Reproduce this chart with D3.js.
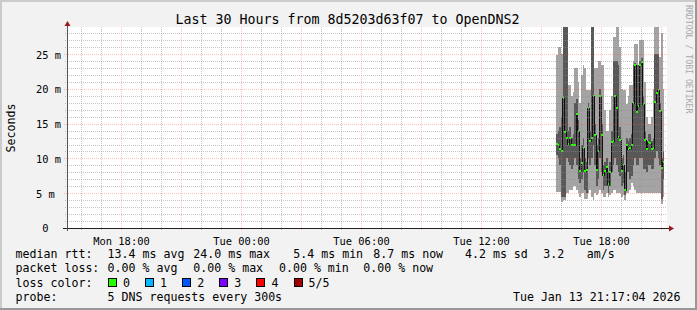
<!DOCTYPE html>
<html>
<head>
<meta charset="utf-8">
<script src="https://cdnjs.cloudflare.com/ajax/libs/d3/7.8.5/d3.min.js"></script>
<style>
  html, body { margin: 0; padding: 0; background: #f2f2f2; }
  svg { display: block; }
  text { font-family: "DejaVu Sans Mono", monospace; white-space: pre; }
</style>
</head>
<body>
<svg width="697" height="310"></svg>
<script>
// Time window of the graph (30 hours) and the first sample with data
var startTime = new Date(2026, 0, 12, 15, 18);
var endTime = new Date(2026, 0, 13, 21, 18);
var firstSample = new Date(2026, 0, 13, 15, 45);
var stepMinutes = 5;

// Sorted ping results per 5 minute step, in milliseconds
var minMs = [5.2, 5.2, 5.2, 3.8, 4, 4, 5, 5, 5.5, 5.5, 6, 6, 5.5, 5, 4.5, 5, 5, 4.2, 4.2, 5,
  5.5, 4.5, 4, 5, 4.8, 5, 5.5, 5, 4.5, 4.5, 5, 4.5, 4.8, 5, 5.5, 5.5, 5, 5, 5, 4.5,
  4.8, 4, 5, 5, 5.5, 6.5, 6, 5.5, 5, 5, 5, 5, 5, 5, 5, 5, 5, 5, 5, 5,
  5, 5, 5, 3.5, 4.5];
var lowMs = [10.5, 10, 9, 4.5, 4.5, 4.5, 10, 9.5, 9, 8.5, 9, 10, 9, 7, 6.5, 7, 8, 5.5, 5, 10,
  9, 10, 12, 9, 6, 7, 10, 8, 5.5, 6, 6, 5, 6, 8, 9, 10, 9, 8, 7.5, 6,
  6.5, 4.8, 8, 8, 7, 7.5, 9, 10, 9, 9, 10, 10, 8.5, 8.5, 8, 9, 9, 8.5, 8.5, 10,
  11, 10, 9, 4.2, 7];
var medianMs = [12.1, 12.0, 11.4, 11.0, 18.7, 13.8, 13.0, 12.1, 12.9, 12.0, 11.9, 11.9, 16.4, 14.0, 8.2, 9.3, 11.5, 8.2, 8.3, 17.2,
  12.5, 13.0, 19.0, 13.4, 8.3, 11.0, 19.0, 13.4, 7.6, 8.2, 8.7, 6.3, 8.0, 12.4, 12.5, 19.0, 17.2, 13.1, 12.6, 8.2,
  9.0, 5.5, 11.9, 11.4, 11.5, 11.9, 18.0, 23.4, 16.7, 17.5, 23.4, 23.9, 17.8, 12.6, 11.4, 12.4, 12.2, 11.4, 11.5, 18.1,
  19.4, 19.8, 16.8, 8.6, 9.5];
var highMs = [13.5, 14, 14.5, 16, 30, 30, 30, 14, 14.5, 13, 13.5, 18, 18.5, 15.5, 10, 12, 13, 10, 9.5, 18,
  14, 30, 30, 15, 12, 13, 20, 15, 9, 9.5, 10, 8, 9.5, 14, 24, 24, 24, 23.5, 14.5, 10,
  10.5, 8, 13, 12.5, 13, 13.5, 23.5, 23.7, 23.5, 23.5, 24, 24.5, 19, 14, 12.5, 13.5, 13.5, 12.5, 13, 25,
  25, 25, 18, 10, 11];
var maxMs = [24.9, 26, 26, 25, 30, 30, 30, 20.5, 20.5, 19, 19.5, 23, 23, 21, 18, 22, 23.4, 23, 19.8, 19.8,
  19.8, 24.5, 30, 23, 23, 24, 24, 23.4, 23.4, 17, 14, 14, 17, 19, 27.4, 27.4, 30, 30, 26, 20,
  19.8, 19.8, 17.8, 19, 20.5, 20.5, 24, 26.5, 26.5, 22, 27, 27, 27, 21, 16, 15, 15, 16, 20, 30,
  30, 30, 24.6, 28, 20];

// Axis values
var yTicks = [0, 5, 10, 15, 20, 25];
var yMax = 28.9;

// Legend texts
var titleText = "Last 30 Hours from 8d5203d63f07 to OpenDNS2";
var rttStats = ["13.4 ms avg", "24.0 ms max", "5.4 ms min", "8.7 ms now", "4.2 ms sd", "3.2", "am/s"];
var lossStats = ["0.00 % avg", "0.00 % max", "0.00 % min", "0.00 % now"];
var lossLevels = ["0", "1", "2", "3", "4", "5/5"];
var lossColors = ["#26ff00", "#00b8ff", "#0059ff", "#7e00ff", "#ff0000", "#a10000"];
var probeText = "5 DNS requests every 300s";
var stampText = "Tue Jan 13 21:17:04 2026";

var svg = d3.select("svg"),
  W = +svg.attr("width"),
  H = +svg.attr("height"),
  plot = { left: 67, right: 667, top: 27, bottom: 228 };

// Background and shaded frame
svg.append("rect").attr("width", W).attr("height", H).attr("fill", "#f2f2f2");
svg.append("rect").attr("x", 0).attr("y", 0).attr("width", W).attr("height", 2).attr("fill", "#cbcbcb");
svg.append("rect").attr("x", 0).attr("y", 0).attr("width", 2).attr("height", H).attr("fill", "#cbcbcb");
svg.append("rect").attr("x", 0).attr("y", H - 2).attr("width", W).attr("height", 2).attr("fill", "#999");
svg.append("rect").attr("x", W - 2).attr("y", 0).attr("width", 2).attr("height", H).attr("fill", "#999");

svg.append("rect")
  .attr("x", plot.left).attr("y", plot.top)
  .attr("width", plot.right - plot.left).attr("height", plot.bottom - plot.top)
  .attr("fill", "#fff");

var x = d3.scaleTime().domain([startTime, endTime]).range([plot.left, plot.right]);
var y = d3.scaleLinear().domain([0, yMax]).range([plot.bottom, plot.top]);

svg.append("clipPath").attr("id", "plotclip")
  .append("rect")
  .attr("x", plot.left).attr("y", plot.top)
  .attr("width", plot.right - plot.left).attr("height", plot.bottom - plot.top);

// Samples
var samples = medianMs.map(function (m, i) {
  return {
    t: d3.timeMinute.offset(firstSample, i * stepMinutes),
    min: minMs[i], low: lowMs[i], med: m, high: highMs[i], max: maxMs[i]
  };
});
var last = samples[samples.length - 1];
var stepped = samples.concat([Object.assign({}, last, { t: d3.timeMinute.offset(last.t, stepMinutes) })]);

var data = svg.append("g").attr("clip-path", "url(#plotclip)");

// Smoke: outer band min..max, inner band low..high
var outer = d3.area().curve(d3.curveStepAfter)
  .x((d) => x(d.t)).y0((d) => y(d.min)).y1((d) => y(d.max));
var inner = d3.area().curve(d3.curveStepAfter)
  .x((d) => x(d.t)).y0((d) => y(d.low)).y1((d) => y(d.high));

data.append("path").datum(stepped).attr("d", outer)
  .attr("fill", "#a4a4a4").attr("shape-rendering", "crispEdges");
data.append("path").datum(stepped).attr("d", inner)
  .attr("fill", "#585858").attr("shape-rendering", "crispEdges");

// Median line and loss coloured median marks
var medLine = d3.line().curve(d3.curveStepAfter)
  .x((d) => x(d.t)).y((d) => Math.round(y(d.med)) + 0.5);
data.append("path").datum(stepped).attr("d", medLine)
  .attr("fill", "none").attr("stroke", "#111").attr("stroke-width", 1)
  .attr("shape-rendering", "crispEdges");

data.selectAll(".med")
  .data(samples)
  .enter()
  .append("rect")
  .attr("class", "med")
  .attr("x", (d) => x(d.t))
  .attr("y", (d) => Math.round(y(d.med)) - 1)
  .attr("width", (d) => x(d3.timeMinute.offset(d.t, stepMinutes)) - x(d.t))
  .attr("height", 2)
  .attr("fill", lossColors[0])
  .attr("shape-rendering", "crispEdges");

// Grid (drawn on top, like rrdtool)
var grid = svg.append("g").attr("shape-rendering", "crispEdges");
var hours = d3.timeHour.every(1).range(startTime, endTime);
var minorCol = "rgba(140,140,140,0.5)",
  majorCol = "rgba(255,70,70,0.34)";

grid.selectAll(".vminor")
  .data(hours.filter((d) => d.getHours() % 3 !== 0))
  .enter().append("line")
  .attr("x1", (d) => Math.round(x(d)) + 0.5).attr("x2", (d) => Math.round(x(d)) + 0.5)
  .attr("y1", plot.top).attr("y2", plot.bottom + 2)
  .attr("stroke", minorCol).attr("stroke-dasharray", "1,1");

grid.selectAll(".vmajor")
  .data(hours.filter((d) => d.getHours() % 3 === 0))
  .enter().append("line")
  .attr("x1", (d) => Math.round(x(d)) + 0.5).attr("x2", (d) => Math.round(x(d)) + 0.5)
  .attr("y1", plot.top).attr("y2", plot.bottom + 3)
  .attr("stroke", majorCol).attr("stroke-dasharray", "1,1");

var ms = d3.range(1, Math.floor(yMax) + 1);
grid.selectAll(".hminor")
  .data(ms.filter((d) => d % 5 !== 0))
  .enter().append("line")
  .attr("y1", (d) => Math.round(y(d)) + 0.5).attr("y2", (d) => Math.round(y(d)) + 0.5)
  .attr("x1", plot.left - 2).attr("x2", plot.right)
  .attr("stroke", minorCol).attr("stroke-dasharray", "1,1");

grid.selectAll(".hmajor")
  .data(ms.filter((d) => d % 5 === 0))
  .enter().append("line")
  .attr("y1", (d) => Math.round(y(d)) + 0.5).attr("y2", (d) => Math.round(y(d)) + 0.5)
  .attr("x1", plot.left - 3).attr("x2", plot.right)
  .attr("stroke", majorCol).attr("stroke-dasharray", "1,1");

// Axes lines with arrows
svg.append("line")
  .attr("x1", plot.left - 4).attr("x2", plot.right + 3)
  .attr("y1", plot.bottom + 0.5).attr("y2", plot.bottom + 0.5)
  .attr("stroke", "#222").attr("shape-rendering", "crispEdges");
svg.append("line")
  .attr("x1", plot.left + 0.5).attr("x2", plot.left + 0.5)
  .attr("y1", plot.bottom + 3).attr("y2", plot.top - 3)
  .attr("stroke", "#555").attr("shape-rendering", "crispEdges");
svg.append("path")
  .attr("d", "M" + (plot.right + 2) + "," + (plot.bottom - 2.5) + "l5,3l-5,3z")
  .attr("fill", "#9b1b1b");
svg.append("path")
  .attr("d", "M" + (plot.left - 2.5) + "," + (plot.top - 1) + "l3,-5l3,5z")
  .attr("fill", "#9b1b1b");

// X axis labels every 6 hours
var labelTimes = hours.filter((d) => d.getHours() % 6 === 0);
var xAxis = svg.append("g")
  .attr("transform", "translate(0," + plot.bottom + ")")
  .call(d3.axisBottom(x).tickValues(labelTimes).tickSize(0).tickFormat(d3.timeFormat("%a %H:%M")));
xAxis.select(".domain").remove();
xAxis.selectAll("text")
  .attr("y", 17).attr("dy", 0)
  .attr("fill", "#000").style("font-size", "10.4px")
  .style("font-family", "'DejaVu Sans Mono', monospace");

// Y axis labels
var yAxis = svg.append("g")
  .attr("transform", "translate(" + plot.left + ",0)")
  .call(d3.axisLeft(y).tickValues(yTicks).tickSize(0).tickFormat((d) => (d === 0 ? "0" : d + " m")));
yAxis.select(".domain").remove();
yAxis.selectAll("text")
  .attr("text-anchor", "start")
  .attr("x", (d) => (d === 0 ? -24.8 : -31))
  .attr("dy", "0.38em")
  .attr("fill", "#000").style("font-size", "10.4px")
  .style("font-family", "'DejaVu Sans Mono', monospace");

// Title and side texts
svg.append("text")
  .attr("x", 347.5).attr("y", 24)
  .attr("text-anchor", "middle")
  .style("font-size", "13.3px")
  .text(titleText);

svg.append("text")
  .attr("transform", "translate(14.5,128) rotate(-90)")
  .attr("text-anchor", "middle")
  .style("font-size", "11.6px")
  .text("Seconds");

svg.append("text")
  .attr("transform", "translate(685.5,5) rotate(90)")
  .attr("fill", "#a8a8a8")
  .style("font-size", "8.2px")
  .text("RRDTOOL / TOBI OETIKER");

// Legend
var legend = svg.append("g").style("font-size", "11.6px").attr("fill", "#000");
var rttX = [107.6, 193.3, 293.3, 373.3, 465, 543.3, 586.7];
var lossX = [107.6, 193.3, 279, 363.3];
var rowY = [258, 272.3, 286.6, 301];

legend.append("text").attr("x", 15.6).attr("y", rowY[0]).text("median rtt:");
legend.selectAll(".rtt").data(rttStats).enter().append("text")
  .attr("x", (d, i) => rttX[i]).attr("y", rowY[0]).text((d) => d);

legend.append("text").attr("x", 15.6).attr("y", rowY[1]).text("packet loss:");
legend.selectAll(".loss").data(lossStats).enter().append("text")
  .attr("x", (d, i) => lossX[i]).attr("y", rowY[1]).text((d) => d);

legend.append("text").attr("x", 15.6).attr("y", rowY[2]).text("loss color:");
var swatch = legend.selectAll(".sw").data(lossLevels).enter().append("g")
  .attr("transform", (d, i) => "translate(" + (108 + i * 37.1) + ",0)");
swatch.append("rect")
  .attr("x", 0.5).attr("y", rowY[2] - 8).attr("width", 8).attr("height", 8)
  .attr("fill", (d, i) => lossColors[i]).attr("stroke", "#000")
  .attr("shape-rendering", "crispEdges");
swatch.append("text").attr("x", 15).attr("y", rowY[2]).text((d) => d);

legend.append("text").attr("x", 15.6).attr("y", rowY[3]).text("probe:");
legend.append("text").attr("x", 107.6).attr("y", rowY[3]).text(probeText);
legend.append("text").attr("x", 680.5).attr("y", rowY[3]).attr("text-anchor", "end").text(stampText);
</script>
</body>
</html>
